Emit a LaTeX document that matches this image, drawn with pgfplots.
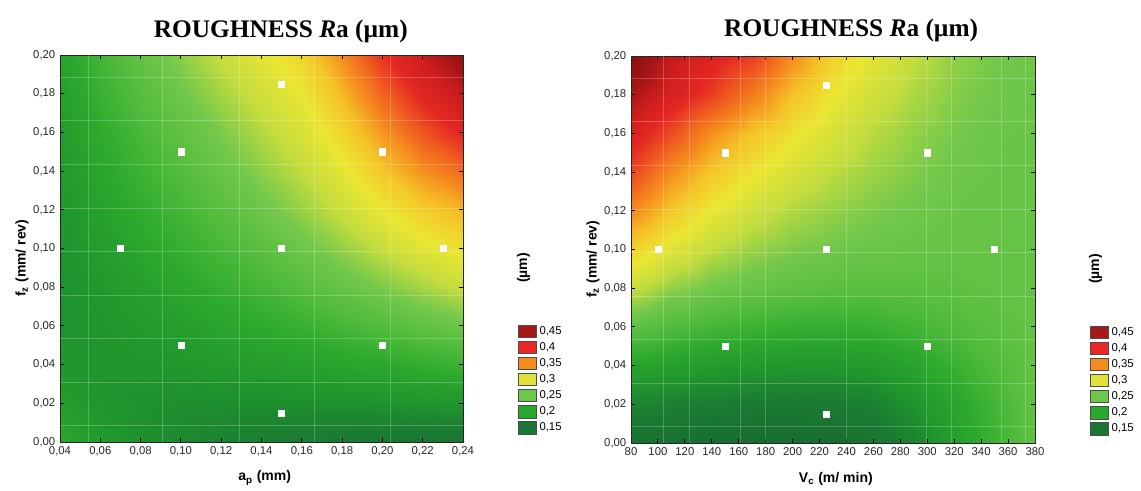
\documentclass[border=0pt]{standalone}
\usepackage{pgfplots}
\pgfplotsset{compat=1.18}
\usepackage{fontspec}
\setmainfont{Liberation Sans}
\newfontfamily\titlefont{Liberation Serif}

\definecolor{c45}{RGB}{165,25,25}
\definecolor{c40}{RGB}{235,38,35}
\definecolor{c35}{RGB}{245,140,30}
\definecolor{c30}{RGB}{226,226,60}
\definecolor{c25}{RGB}{108,200,75}
\definecolor{c20}{RGB}{40,168,45}
\definecolor{c15}{RGB}{25,118,55}

\pgfplotsset{
 rabase/.style={
  scale only axis, height=290.25pt, anchor=south west, clip=false,
  ymin=0, ymax=0.2,
  ytick={0,0.02,0.04,0.06,0.08,0.1,0.12,0.14,0.16,0.18,0.2},
  yticklabel style={/pgf/number format/.cd, fixed, fixed zerofill, precision=2, use comma, assume math mode=true},
  tick label style={font=\fontsize{8.5}{10}\selectfont, text=black!85},
  tick align=inside, major tick length=3pt,
  tick style={black, line width=0.7pt},
  axis line style={black!85, line width=0.6pt},
  axis on top,
  colormap={ra}{rgb255(0cm)=(18,92,40) rgb255(1cm)=(22,106,45) rgb255(2cm)=(26,122,50) rgb255(3cm)=(32,150,45) rgb255(4cm)=(45,170,45) rgb255(5cm)=(82,188,60) rgb255(6cm)=(115,200,75) rgb255(7cm)=(195,220,62) rgb255(8cm)=(235,230,50) rgb255(9cm)=(245,195,40) rgb255(10cm)=(245,140,30) rgb255(11cm)=(240,90,32) rgb255(12cm)=(228,40,35) rgb255(13cm)=(205,30,30) rgb255(14cm)=(160,20,20) rgb255(15cm)=(130,15,15)},
  point meta min=0.10, point meta max=0.475,
  extra tick style={grid=major, major tick length=0pt, major grid style={white, opacity=0.22, line width=0.5pt}},
  extra x tick labels={}, extra y tick labels={},
  extra y ticks={0.0085,0.031,0.0535,0.076,0.0985,0.121,0.1435,0.166,0.1885},
  legend image code/.code={\draw[##1, line width=0.4pt] (0pt,-4.7pt) rectangle (14pt,4.7pt);},
  legend style={at={(1.125,0.01)}, anchor=south west, draw=none, fill=none, font=\fontsize{8.5}{10}\selectfont, row sep=0.6pt},
  legend cell align=left,
 }
}

\begin{document}
\begin{tikzpicture}
% ---------------- left: Ra vs a_p and f_z ----------------
\begin{axis}[rabase, at={(0pt,0pt)}, width=302.25pt,
  xmin=0.04, xmax=0.24,
  xtick={0.04,0.06,0.08,0.1,0.12,0.14,0.16,0.18,0.2,0.22,0.24},
  xticklabel style={/pgf/number format/.cd, fixed, fixed zerofill, precision=2, use comma, assume math mode=true},
  extra x ticks={0.054,0.091,0.129,0.166,0.204}]
\addplot[surf, shader=interp, mesh/rows=11, mesh/cols=11, point meta=explicit, forget plot]
 table[x index=0, y index=1, meta index=2] {
0.04 0.00 0.196
0.06 0.00 0.181
0.08 0.00 0.170
0.10 0.00 0.163
0.12 0.00 0.158
0.14 0.00 0.154
0.16 0.00 0.151
0.18 0.00 0.148
0.20 0.00 0.146
0.22 0.00 0.144
0.24 0.00 0.142
0.04 0.02 0.184
0.06 0.02 0.176
0.08 0.02 0.171
0.10 0.02 0.169
0.12 0.02 0.168
0.14 0.02 0.168
0.16 0.02 0.169
0.18 0.02 0.170
0.20 0.02 0.172
0.22 0.02 0.174
0.24 0.02 0.176
0.04 0.04 0.176
0.06 0.04 0.174
0.08 0.04 0.175
0.10 0.04 0.177
0.12 0.04 0.180
0.14 0.04 0.184
0.16 0.04 0.188
0.18 0.04 0.193
0.20 0.04 0.198
0.22 0.04 0.204
0.24 0.04 0.210
0.04 0.06 0.172
0.06 0.06 0.175
0.08 0.06 0.180
0.10 0.06 0.186
0.12 0.06 0.193
0.14 0.06 0.200
0.16 0.06 0.208
0.18 0.06 0.217
0.20 0.06 0.226
0.22 0.06 0.236
0.24 0.06 0.245
0.04 0.08 0.171
0.06 0.08 0.178
0.08 0.08 0.187
0.10 0.08 0.196
0.12 0.08 0.206
0.14 0.08 0.216
0.16 0.08 0.228
0.18 0.08 0.240
0.20 0.08 0.253
0.22 0.08 0.266
0.24 0.08 0.278
0.04 0.10 0.172
0.06 0.10 0.183
0.08 0.10 0.195
0.10 0.10 0.206
0.12 0.10 0.218
0.14 0.10 0.231
0.16 0.10 0.245
0.18 0.10 0.260
0.20 0.10 0.277
0.22 0.10 0.293
0.24 0.10 0.305
0.04 0.12 0.175
0.06 0.12 0.189
0.08 0.12 0.203
0.10 0.12 0.216
0.12 0.12 0.230
0.14 0.12 0.245
0.16 0.12 0.261
0.18 0.12 0.279
0.20 0.12 0.300
0.22 0.12 0.318
0.24 0.12 0.332
0.04 0.14 0.178
0.06 0.14 0.195
0.08 0.14 0.211
0.10 0.14 0.226
0.12 0.14 0.242
0.14 0.14 0.258
0.16 0.14 0.275
0.18 0.14 0.296
0.20 0.14 0.322
0.22 0.14 0.348
0.24 0.14 0.368
0.04 0.16 0.182
0.06 0.16 0.201
0.08 0.16 0.219
0.10 0.16 0.236
0.12 0.16 0.253
0.14 0.16 0.270
0.16 0.16 0.288
0.18 0.16 0.312
0.20 0.16 0.345
0.22 0.16 0.378
0.24 0.16 0.405
0.04 0.18 0.186
0.06 0.18 0.208
0.08 0.18 0.228
0.10 0.18 0.247
0.12 0.18 0.265
0.14 0.18 0.283
0.16 0.18 0.300
0.18 0.18 0.330
0.20 0.18 0.370
0.22 0.18 0.405
0.24 0.18 0.432
0.04 0.20 0.190
0.06 0.20 0.215
0.08 0.20 0.238
0.10 0.20 0.258
0.12 0.20 0.278
0.14 0.20 0.295
0.16 0.20 0.312
0.18 0.20 0.350
0.20 0.20 0.395
0.22 0.20 0.428
0.24 0.20 0.462
};
\addplot[only marks, mark=square*, mark size=2.3pt, white, forget plot] coordinates {
(0.15,0.185) (0.10,0.15) (0.20,0.15) (0.07,0.10) (0.15,0.10) (0.23,0.10) (0.10,0.05) (0.20,0.05) (0.15,0.015)};
\addlegendimage{fill=c45, draw=black!70}\addlegendentry{0,45}
\addlegendimage{fill=c40, draw=black!70}\addlegendentry{0,4}
\addlegendimage{fill=c35, draw=black!70}\addlegendentry{0,35}
\addlegendimage{fill=c30, draw=black!70}\addlegendentry{0,3}
\addlegendimage{fill=c25, draw=black!70}\addlegendentry{0,25}
\addlegendimage{fill=c20, draw=black!70}\addlegendentry{0,2}
\addlegendimage{fill=c15, draw=black!70}\addlegendentry{0,15}
\node[font=\titlefont\bfseries\fontsize{19}{22}\selectfont, anchor=base, yshift=12.75pt] at (rel axis cs:0.548,1) {ROUGHNESS \textit{R}a (µm)};
\node[font=\fontsize{10.5}{12}\selectfont\bfseries, xshift=-28.5pt, rotate=90] at (rel axis cs:0,0.475) {f\textsubscript{z} (mm/ rev)};
\node[font=\fontsize{10.5}{12}\selectfont\bfseries, yshift=-27pt] at (rel axis cs:0.508,0) {a\textsubscript{p} (mm)};
\node[font=\fontsize{10.5}{12}\selectfont\bfseries, rotate=90] at (rel axis cs:1.15,0.45) {(µm)};
\end{axis}

% ---------------- right: Ra vs V_c and f_z ----------------
\begin{axis}[rabase, at={(428.25pt,-0.75pt)}, width=303pt,
  xmin=80, xmax=380,
  xtick={80,100,120,140,160,180,200,220,240,260,280,300,320,340,360,380},
  xticklabel style={/pgf/number format/assume math mode=true},
  extra x ticks={104,123,161,180,240,299,318,355,373}]
\addplot[surf, shader=interp, mesh/rows=11, mesh/cols=11, point meta=explicit, forget plot]
 table[x index=0, y index=1, meta index=2] {
80 0.00 0.138
110 0.00 0.135
140 0.00 0.132
170 0.00 0.130
200 0.00 0.130
230 0.00 0.132
260 0.00 0.140
290 0.00 0.158
320 0.00 0.185
350 0.00 0.210
380 0.00 0.235
80 0.02 0.160
110 0.02 0.156
140 0.02 0.152
170 0.02 0.150
200 0.02 0.149
230 0.02 0.150
260 0.02 0.156
290 0.02 0.172
320 0.02 0.193
350 0.02 0.215
380 0.02 0.236
80 0.04 0.192
110 0.04 0.186
140 0.04 0.181
170 0.04 0.178
200 0.04 0.176
230 0.04 0.176
260 0.04 0.180
290 0.04 0.192
320 0.04 0.207
350 0.04 0.224
380 0.04 0.237
80 0.06 0.235
110 0.06 0.224
140 0.06 0.216
170 0.06 0.210
200 0.06 0.206
230 0.06 0.205
260 0.06 0.207
290 0.06 0.214
320 0.06 0.224
350 0.06 0.232
380 0.06 0.238
80 0.08 0.278
110 0.08 0.260
140 0.08 0.248
170 0.08 0.240
200 0.08 0.234
230 0.08 0.231
260 0.08 0.230
290 0.08 0.231
320 0.08 0.234
350 0.08 0.237
380 0.08 0.239
80 0.10 0.315
110 0.10 0.292
140 0.10 0.274
170 0.10 0.262
200 0.10 0.253
230 0.10 0.247
260 0.10 0.243
290 0.10 0.241
320 0.10 0.240
350 0.10 0.239
380 0.10 0.239
80 0.12 0.352
110 0.12 0.322
140 0.12 0.298
170 0.12 0.282
200 0.12 0.269
230 0.12 0.260
260 0.12 0.253
290 0.12 0.247
320 0.12 0.243
350 0.12 0.240
380 0.12 0.239
80 0.14 0.385
110 0.14 0.350
140 0.14 0.322
170 0.14 0.302
200 0.14 0.286
230 0.14 0.273
260 0.14 0.263
290 0.14 0.254
320 0.14 0.247
350 0.14 0.243
380 0.14 0.240
80 0.16 0.415
110 0.16 0.382
140 0.16 0.348
170 0.16 0.324
200 0.16 0.304
230 0.16 0.287
260 0.16 0.272
290 0.16 0.260
320 0.16 0.251
350 0.16 0.245
380 0.16 0.242
80 0.18 0.445
110 0.18 0.415
140 0.18 0.388
170 0.18 0.358
200 0.18 0.325
230 0.18 0.300
260 0.18 0.283
290 0.18 0.268
320 0.18 0.256
350 0.18 0.248
380 0.18 0.243
80 0.20 0.470
110 0.20 0.432
140 0.20 0.410
170 0.20 0.390
200 0.20 0.350
230 0.20 0.315
260 0.20 0.295
290 0.20 0.275
320 0.20 0.260
350 0.20 0.250
380 0.20 0.245
};
\addplot[only marks, mark=square*, mark size=2.3pt, white, forget plot] coordinates {
(225,0.185) (150,0.15) (300,0.15) (100,0.10) (225,0.10) (350,0.10) (150,0.05) (300,0.05) (225,0.015)};
\addlegendimage{fill=c45, draw=black!70}\addlegendentry{0,45}
\addlegendimage{fill=c40, draw=black!70}\addlegendentry{0,4}
\addlegendimage{fill=c35, draw=black!70}\addlegendentry{0,35}
\addlegendimage{fill=c30, draw=black!70}\addlegendentry{0,3}
\addlegendimage{fill=c25, draw=black!70}\addlegendentry{0,25}
\addlegendimage{fill=c20, draw=black!70}\addlegendentry{0,2}
\addlegendimage{fill=c15, draw=black!70}\addlegendentry{0,15}
\node[font=\titlefont\bfseries\fontsize{19}{22}\selectfont, anchor=base, yshift=14.25pt] at (rel axis cs:0.545,1) {ROUGHNESS \textit{R}a (µm)};
\node[font=\fontsize{10.5}{12}\selectfont\bfseries, xshift=-28.5pt, rotate=90] at (rel axis cs:0,0.475) {f\textsubscript{z} (mm/ rev)};
\node[font=\fontsize{10.5}{12}\selectfont\bfseries, yshift=-27pt] at (rel axis cs:0.507,0) {V\textsubscript{c} (m/ min)};
\node[font=\fontsize{10.5}{12}\selectfont\bfseries, rotate=90] at (rel axis cs:1.15,0.45) {(µm)};
\end{axis}
\pgfresetboundingbox
\path[use as bounding box] (-45pt,-36pt) rectangle (810.75pt,331.5pt);
\end{tikzpicture}
\end{document}
